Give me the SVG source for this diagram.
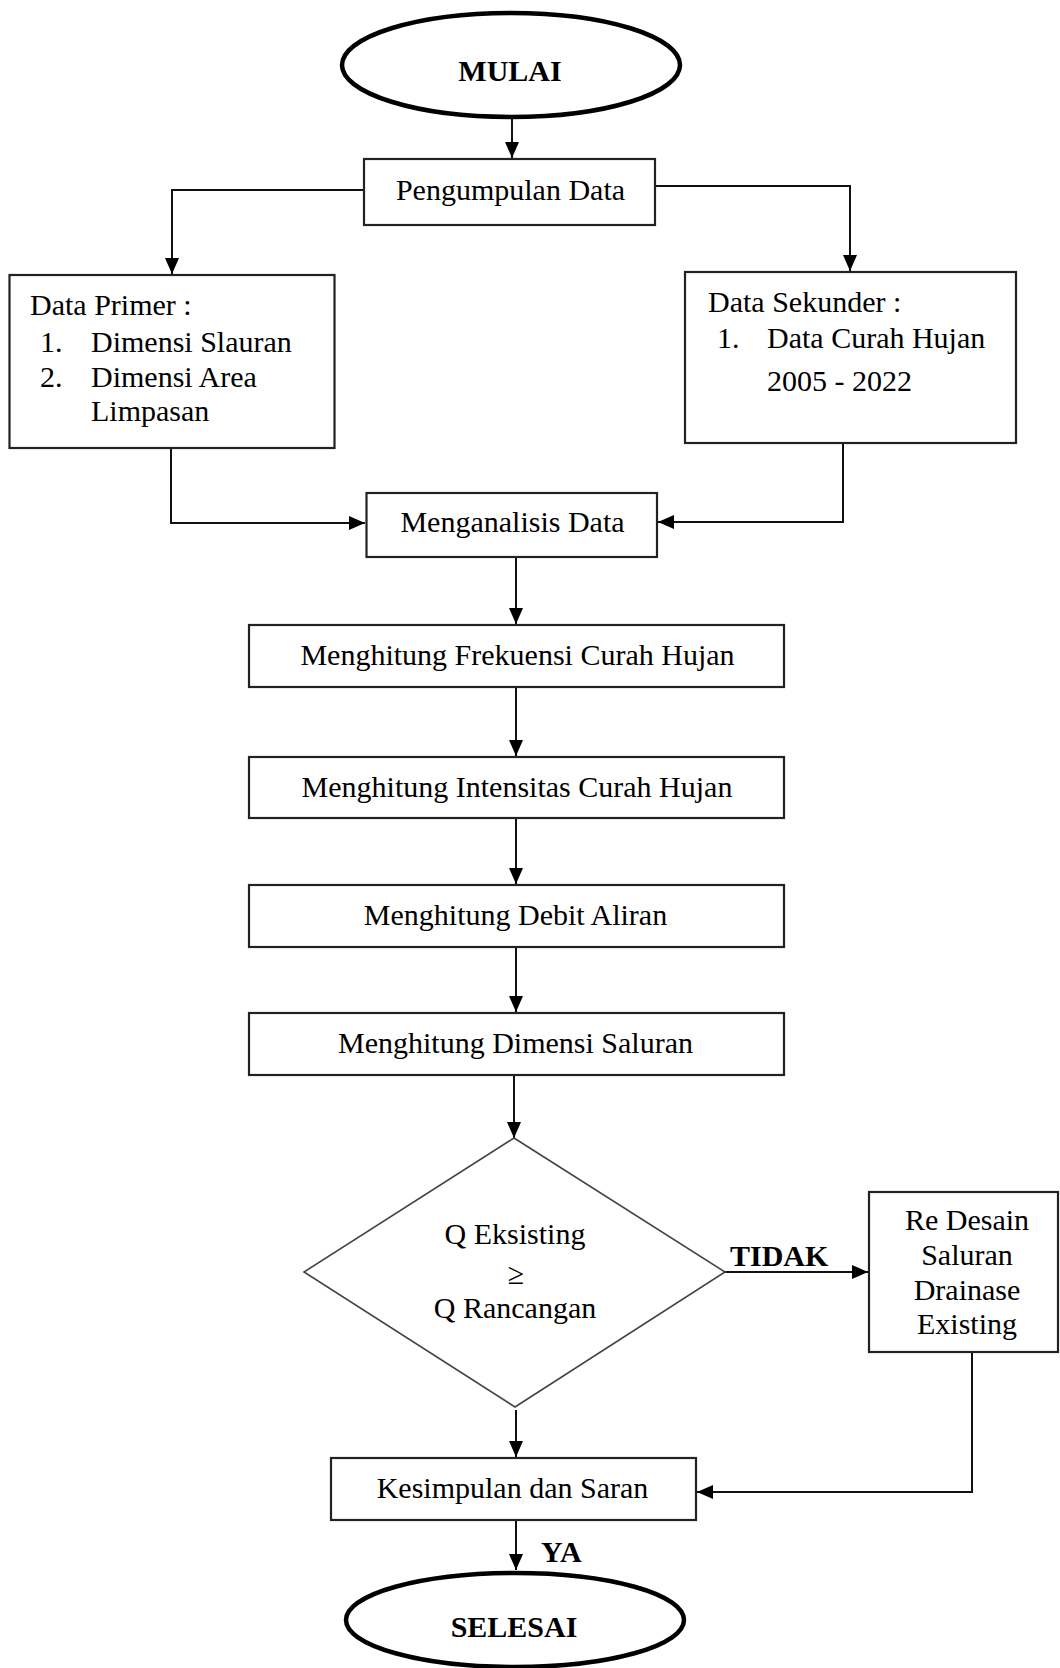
<svg xmlns="http://www.w3.org/2000/svg" width="1060" height="1668" viewBox="0 0 1060 1668">
<style>
.box{fill:#fff;stroke:#222;stroke-width:2.2}
.dia{fill:#fff;stroke:#444;stroke-width:1.6}
.term{fill:#fff;stroke:#000;stroke-width:4.5}
.t{font-family:"Liberation Serif","Times New Roman",serif;font-size:30px;fill:#000}
.c{text-anchor:middle}
.b{font-weight:bold}
.con{fill:none;stroke:#111;stroke-width:2}
</style>
<defs>
<marker id="ah" markerUnits="userSpaceOnUse" markerWidth="16" markerHeight="14" refX="16" refY="7" orient="auto">
<path d="M0,0 L16,7 L0,14 z" fill="#000"/>
</marker>
</defs>
<rect width="1060" height="1668" fill="#fff"/>
<g id="connectors">
<path class="con" d="M512,118 V158" marker-end="url(#ah)"/>
<path class="con" d="M364,190 H172 V274" marker-end="url(#ah)"/>
<path class="con" d="M655,186 H850 V271" marker-end="url(#ah)"/>
<path class="con" d="M171,448 V523 H365" marker-end="url(#ah)"/>
<path class="con" d="M843,443 V522 H658" marker-end="url(#ah)"/>
<path class="con" d="M516,557 V624" marker-end="url(#ah)"/>
<path class="con" d="M516,687 V756" marker-end="url(#ah)"/>
<path class="con" d="M516,818 V884" marker-end="url(#ah)"/>
<path class="con" d="M516,947 V1012" marker-end="url(#ah)"/>
<path class="con" d="M514,1075 V1138" marker-end="url(#ah)"/>
<path class="con" d="M725,1272 H868" marker-end="url(#ah)"/>
<path class="con" d="M516,1410 V1457" marker-end="url(#ah)"/>
<path class="con" d="M972,1352 V1492 H697" stroke-width="3" marker-end="url(#ah)"/>
<path class="con" d="M516,1520 V1570" marker-end="url(#ah)"/>
<text class="t b" x="730" y="1266" font-size="29">TIDAK</text>
<text class="t b" x="541" y="1562" font-size="29">YA</text>
</g>
<g id="mulai">
<ellipse class="term" cx="511" cy="65" rx="169" ry="52"/>
<text class="t c b" x="510" y="81" font-size="31">MULAI</text>
</g>
<g id="pengumpulan">
<rect class="box" x="364" y="159" width="291" height="66"/>
<text class="t c" x="510.5" y="200">Pengumpulan Data</text>
</g>
<g id="data-primer">
<rect class="box" x="9.5" y="275" width="325" height="173"/>
<text class="t" x="30" y="315">Data Primer :</text>
<text class="t" x="40" y="352">1.</text>
<text class="t" x="91" y="352">Dimensi Slauran</text>
<text class="t" x="40" y="387">2.</text>
<text class="t" x="91" y="387">Dimensi Area</text>
<text class="t" x="91" y="421">Limpasan</text>
</g>
<g id="data-sekunder">
<rect class="box" x="685" y="272" width="331" height="171"/>
<text class="t" x="708" y="312">Data Sekunder :</text>
<text class="t" x="717" y="348">1.</text>
<text class="t" x="767" y="348">Data Curah Hujan</text>
<text class="t" x="767" y="391" font-size="31">2005 - 2022</text>
</g>
<g id="menganalisis">
<rect class="box" x="366.5" y="493" width="290.5" height="64"/>
<text class="t c" x="512.5" y="532">Menganalisis Data</text>
</g>
<g id="frekuensi">
<rect class="box" x="249" y="625" width="535" height="62"/>
<text class="t c" x="517.5" y="665">Menghitung Frekuensi Curah Hujan</text>
</g>
<g id="intensitas">
<rect class="box" x="249" y="757" width="535" height="61"/>
<text class="t c" x="517" y="797">Menghitung Intensitas Curah Hujan</text>
</g>
<g id="debit">
<rect class="box" x="249" y="885" width="535" height="62"/>
<text class="t c" x="515.5" y="925">Menghitung Debit Aliran</text>
</g>
<g id="dimensi">
<rect class="box" x="249" y="1013" width="535" height="62"/>
<text class="t c" x="515.5" y="1053">Menghitung Dimensi Saluran</text>
</g>
<g id="keputusan">
<polygon class="dia" points="514,1138 725,1272 515,1407 304,1272"/>
<text class="t c" x="515" y="1244">Q Eksisting</text>
<text class="t c" x="516" y="1284" font-size="36">≥</text>
<text class="t c" x="515" y="1318">Q Rancangan</text>
</g>
<g id="redesain">
<rect class="box" x="869" y="1192" width="189" height="160"/>
<text class="t c" x="967" y="1230">Re Desain</text>
<text class="t c" x="967" y="1265">Saluran</text>
<text class="t c" x="967" y="1300">Drainase</text>
<text class="t c" x="967" y="1334">Existing</text>
</g>
<g id="kesimpulan">
<rect class="box" x="331" y="1458" width="365" height="62"/>
<text class="t c" x="512.5" y="1498">Kesimpulan dan Saran</text>
</g>
<g id="selesai">
<ellipse class="term" cx="515" cy="1620" rx="169" ry="47"/>
<text class="t c b" x="514" y="1637" font-size="31">SELESAI</text>
</g>
</svg>
